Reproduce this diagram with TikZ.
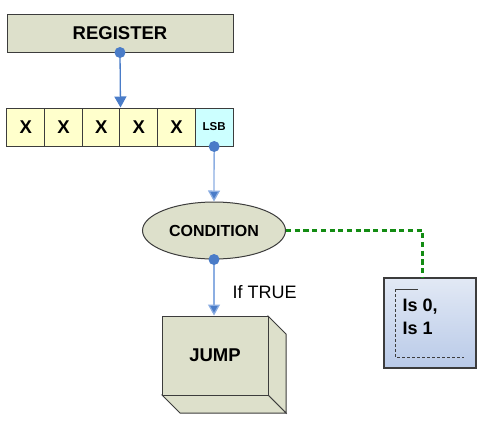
\documentclass[tikz,border=0pt]{standalone}
\usepackage{fontspec}
\setmainfont{Liberation Sans}
\usetikzlibrary{arrows.meta,shapes.geometric}
\definecolor{boxgreen}{HTML}{DDE0CB}
\definecolor{cellyellow}{HTML}{FFFFCC}
\definecolor{cellcyan}{HTML}{CCFFFF}
\definecolor{linkblue}{HTML}{4A7CC8}
\definecolor{linklight}{HTML}{8CAEE2}
\definecolor{notegreen}{HTML}{138C13}
\definecolor{edgegray}{HTML}{3C3C3C}
\definecolor{notetop}{HTML}{E2E9F5}
\definecolor{notebottom}{HTML}{B9CAE8}
\tikzset{
  regbox/.style={draw=edgegray, line width=1pt, fill=boxgreen, minimum width=226pt, minimum height=38pt, inner sep=0pt},
  bitcell/.style={draw=edgegray, line width=1pt, fill=cellyellow, minimum width=37.67pt, minimum height=38pt, inner sep=0pt},
  link/.style={line width=1.3pt, -{Triangle[width=12pt,length=11pt]}},
  bigtext/.style={font=\fontsize{18.5}{22}\selectfont\bfseries}
}
\begin{document}
\begin{tikzpicture}[x=1pt,y=-1pt]
                    \useasboundingbox (0,0) rectangle (488,424);

                    % Marking register box
                    \node [regbox, bigtext] (reg) at (120,33) {REGISTER};%

                    % Marking bit cells
                    \node [bitcell, bigtext] (c1) at (25.83,127) {X};%
                    \node [bitcell, bigtext] (c2) at (63.50,127) {X};%
                    \node [bitcell, bigtext] (c3) at (101.17,127) {X};%
                    \node [bitcell, bigtext] (c4) at (138.83,127) {X};%
                    \node [bitcell, bigtext] (c5) at (176.50,127) {X};%
                    \node [bitcell, fill=cellcyan, font=\fontsize{11.5}{13}\selectfont\bfseries] (lsb) at (214.17,127) {LSB};%

                    % Marking condition ellipse
                    \node [ellipse, draw=edgegray, line width=1pt, fill=boxgreen, minimum width=143pt, minimum height=57pt, inner sep=0pt, font=\fontsize{16}{19}\selectfont\bfseries] (cond) at (214,230.5) {CONDITION};%

                    % Drawing jump cube sides
                    \coordinate (jne) at (268,316);%
                    \coordinate (jsw) at (162,395);%
                    \coordinate (jse) at (268,395);%
                    \draw [draw=edgegray, line width=1pt, fill=boxgreen] (jne) -- ++(18,18) -- ++(0,79) -- (jse) -- cycle;%
                    \draw [draw=edgegray, line width=1pt, fill=boxgreen] (jsw) -- (jse) -- ++(18,18) -- ++(-106,0) -- cycle;%

                    % Marking jump front face
                    \node [draw=edgegray, line width=1pt, fill=boxgreen, minimum width=106pt, minimum height=79pt, inner sep=0pt, bigtext] (jump) at (215,355.5) {JUMP};%

                    % Marking note box
                    \node [draw=edgegray, line width=1.2pt, top color=notetop, bottom color=notebottom, minimum width=92pt, minimum height=90pt, inner sep=0pt] (note) at (430,323) {};%
                    \draw [edgegray, line width=1pt] (395,289) -- (418,289);%
                    \draw [edgegray, line width=1pt, dash pattern=on 3pt off 2pt] (395,289) -- (395,357) -- (464,357);%
                    \node [anchor=west, align=left, font=\fontsize{18}{23}\selectfont\bfseries] (cases) at (399,316.5) {Is 0,\\Is 1};%

                    % Drawing register to cells
                    \draw [link, linkblue] (reg.south) -- (c3.north east);%
                    \fill [linkblue] (reg.south) circle (5.5);%

                    % Drawing lsb to condition
                    \draw [link, linklight, -{Triangle[width=12pt,length=11pt,fill=linkblue]}] (lsb.south) -- (cond.north);%
                    \fill [linkblue] (lsb.south) circle (5.5);%

                    % Drawing condition to jump
                    \draw [link, linklight, -{Triangle[width=12pt,length=11pt,fill=linkblue]}] (cond.south) -- (cond.south |- jump.north);%
                    \fill [linkblue] (cond.south) circle (5.5);%
                    \node [anchor=west, font=\fontsize{18}{21}\selectfont] (iftrue) at (229,292) {If TRUE};%

                    % Drawing condition to note
                    \coordinate (bend) at (422.5,0);%
                    \draw [notegreen, line width=2.7pt, dash pattern=on 5.2pt off 3.5pt] (cond.east) -| (note.north -| bend);%
\end{tikzpicture}
\end{document}
